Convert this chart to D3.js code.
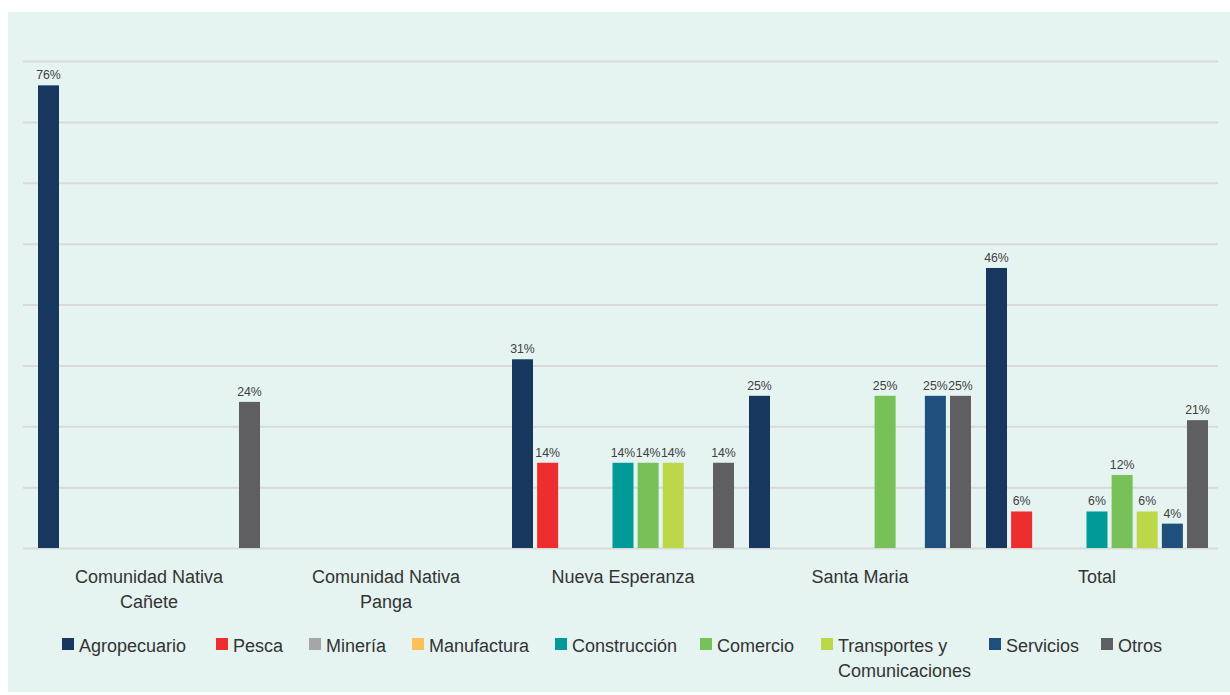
<!DOCTYPE html>
<html><head><meta charset="utf-8">
<script src="https://cdn.jsdelivr.net/npm/d3@7"></script>
<style>
html,body{margin:0;padding:0;background:#fff;}
svg{display:block;}
text{font-family:"Liberation Sans",Arial,sans-serif;}
</style></head>
<body>
<svg id="chart" width="1230" height="695"></svg>
<script>
const categories = ["Comunidad Nativa Cañete", "Comunidad Nativa Panga", "Nueva Esperanza", "Santa Maria", "Total"];
const seriesNames = ["Agropecuario", "Pesca", "Minería", "Manufactura", "Construcción", "Comercio", "Transportes y Comunicaciones", "Servicios", "Otros"];
const seriesColors = ["#17375e", "#ee2d2f", "#a6a6a9", "#fdbf57", "#009b98", "#77c158", "#bdd74b", "#1f4f7d", "#5f5f61"];
// values per series, in order of categories
const agropecuario = [76, 0, 31, 25, 46];
const pesca        = [0, 0, 14, 0, 6];
const mineria      = [0, 0, 0, 0, 0];
const manufactura  = [0, 0, 0, 0, 0];
const construccion = [0, 0, 14, 0, 6];
const comercio     = [0, 0, 14, 25, 12];
const transportes  = [0, 0, 14, 0, 6];
const servicios    = [0, 0, 0, 25, 4];
const otros        = [24, 0, 14, 25, 21];
const yTicks = [0, 10, 20, 30, 40, 50, 60, 70, 80];

const seriesValues = [agropecuario, pesca, mineria, manufactura, construccion, comercio, transportes, servicios, otros];

const svg = d3.select("#chart");
svg.append("rect").attr("x", 8).attr("y", 12).attr("width", 1222).attr("height", 680).attr("fill", "#e5f4f1");

const plot = {left: 30.5, right: 1215.5, top: 61, bottom: 548};
const y = d3.scaleLinear().domain([0, 80]).range([plot.bottom, plot.top]);
const x0 = d3.scaleBand().domain(categories).range([plot.left, plot.right]).padding(0);
const x1 = d3.scaleBand().domain(seriesNames).range([7.5, x0.bandwidth() - 7.5]).paddingInner(0.164).paddingOuter(0);

// gridlines
const grid = svg.append("g").attr("transform", `translate(23,0)`)
  .call(d3.axisLeft(y).tickValues(yTicks).tickSize(-1195).tickFormat(""));
grid.select(".domain").remove();
grid.selectAll(".tick line").attr("stroke", "#d9d9d9").attr("stroke-width", 2);

// bars
const rows = [];
categories.forEach((c, ci) => {
  seriesNames.forEach((s, si) => {
    rows.push({cat: c, ser: s, si: si, v: seriesValues[si][ci]});
  });
});
const drawn = rows.filter(d => d.v > 0);
const gBars = svg.append("g");
gBars.selectAll("rect").data(drawn).join("rect")
  .attr("x", d => x0(d.cat) + x1(d.ser))
  .attr("y", d => y(d.v))
  .attr("width", x1.bandwidth())
  .attr("height", d => y(0) - y(d.v))
  .attr("fill", d => seriesColors[d.si]);

gBars.selectAll("text").data(drawn).join("text")
  .attr("x", d => x0(d.cat) + x1(d.ser) + x1.bandwidth() / 2)
  .attr("y", d => y(d.v) - 6)
  .attr("text-anchor", "middle")
  .attr("font-size", 12.3)
  .attr("fill", "#404040")
  .text(d => d.v + "%");

// word wrap helper
function wrap(textSel, width, lineH) {
  textSel.each(function() {
    const t = d3.select(this);
    const words = t.text().split(/\s+/);
    const x = t.attr("x") || 0;
    const yy = t.attr("y") || 0;
    t.text(null);
    let line = [];
    let ln = 0;
    let tspan = t.append("tspan").attr("x", x).attr("y", yy);
    words.forEach(w => {
      line.push(w);
      tspan.text(line.join(" "));
      if (tspan.node().getComputedTextLength() > width && line.length > 1) {
        line.pop();
        tspan.text(line.join(" "));
        line = [w];
        ln++;
        tspan = t.append("tspan").attr("x", x).attr("y", +yy + ln * lineH).text(w);
      }
    });
  });
}

// x axis
const xAxis = svg.append("g").attr("transform", `translate(0,${plot.bottom})`)
  .call(d3.axisBottom(x0).tickSize(0).tickPadding(0));
xAxis.select(".domain").remove();
xAxis.selectAll(".tick text")
  .attr("y", 35).attr("dy", null)
  .attr("font-size", 18)
  .attr("fill", "#333333")
  .style("font-family", '"Liberation Sans",Arial,sans-serif')
  .call(wrap, 160, 25);

// legend
const legendX = [62, 216, 309, 412, 555, 700, 821, 989, 1101];
const leg = svg.append("g");
seriesNames.forEach((s, i) => {
  const g = leg.append("g").attr("transform", `translate(${legendX[i]},0)`);
  g.append("rect").attr("x", 0).attr("y", 638).attr("width", 12).attr("height", 12).attr("fill", seriesColors[i]);
  g.append("text").attr("x", 17).attr("y", 652).attr("font-size", 18).attr("fill", "#333333")
    .text(s).call(wrap, 125, 25);
});
</script>
</body></html>
